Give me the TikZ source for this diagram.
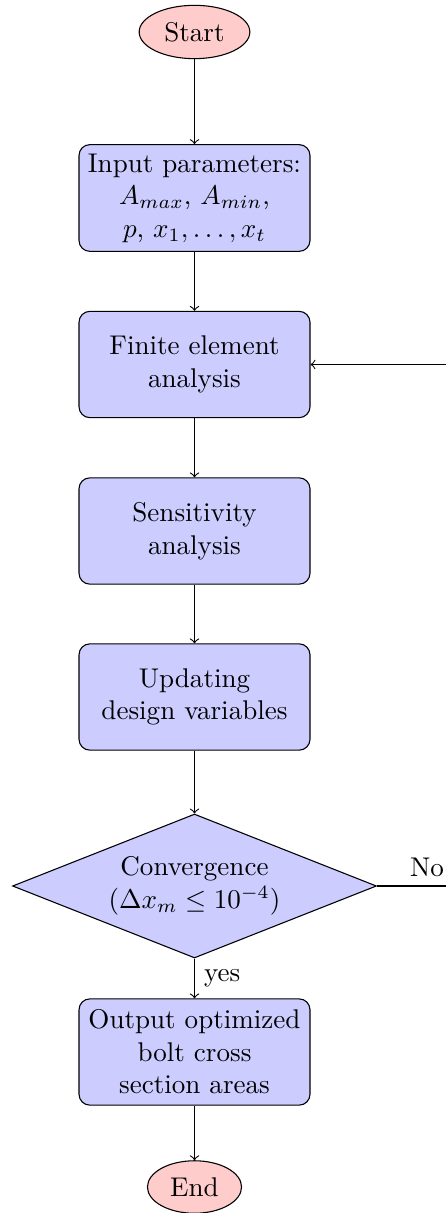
\documentclass[tikz,border=0pt]{standalone}
\usetikzlibrary{shapes.geometric}
\begin{document}
\begin{tikzpicture}[x=0.36955pt, y=-0.36955pt,
  startstop/.style={ellipse, draw, fill=red!20},
  process/.style={rectangle, rounded corners, draw, fill=blue!20, inner xsep=0pt,
    minimum width=3cm, minimum height=1.38cm, text width=3cm, align=center},
  decision/.style={diamond, draw, fill=blue!20, align=center, inner sep=0pt,
    shape aspect=2.53, minimum width=4.727cm, minimum height=1.87cm},
  conn/.style={->}]
\useasboundingbox (0,0) rectangle (446,1213);
\clip (0,0) rectangle (446,1213);
\node[startstop] (start) at (194.5,32) {Start};
\node[process] (input) at (194.5,198) {Input parameters:\\ $A_{max}$, $A_{min}$,\\ $p$, $x_1,\ldots,x_t$};
\node[process] (fea) at (194.5,364.5) {Finite element\\ analysis};
\node[process] (sens) at (194.5,531) {Sensitivity\\ analysis};
\node[process] (upd) at (194.5,697) {Updating\\ design variables};
\node[decision] (dec) at (194.5,886) {Convergence\\ $(\Delta x_m \leq 10^{-4})$};
\node[process] (out) at (194.5,1052) {Output optimized\\ bolt cross\\ section areas};
\node[startstop] (end) at (194.5,1187) {End};
\draw[conn] (start) -- (input);
\draw[conn] (input) -- (fea);
\draw[conn] (fea) -- (sens);
\draw[conn] (sens) -- (upd);
\draw[conn] (upd) -- (dec);
\draw[conn] (dec) -- node[right]{yes} (out);
\draw[conn] (out) -- (end);
\draw[conn] (dec.east) -- node[above]{No} ++(100,0) coordinate (loop) |- (fea.east);
\end{tikzpicture}
\end{document}
